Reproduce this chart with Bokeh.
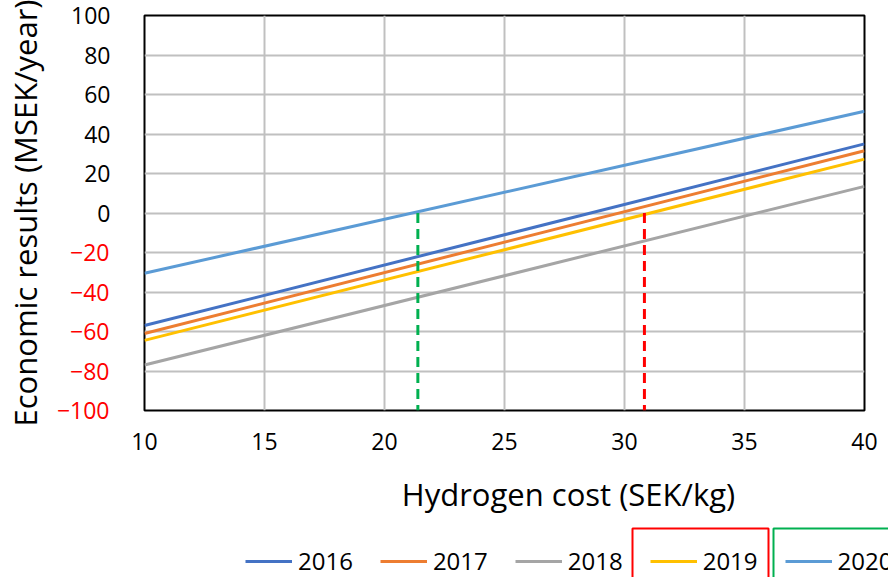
from bokeh.plotting import figure
from bokeh.models import (FixedTicker, Legend, LegendItem, BoxAnnotation, Range1d,
                          LinearAxis, Label)
from bokeh.embed import file_html
from bokeh.resources import INLINE

# ---- data ----
hydrogen_cost = [10, 40]
res_2016 = [-57.0, 35.0]
res_2017 = [-61.0, 31.5]
res_2018 = [-77.0, 13.5]
res_2019 = [-64.5, 27.3]
res_2020 = [-30.5, 51.5]
years = ["2016", "2017", "2018", "2019", "2020"]
breakeven_2019 = 30.83
breakeven_2020 = 21.39
x_ticks = [10, 15, 20, 25, 30, 35, 40]
y_ticks_pos = [0, 20, 40, 60, 80, 100]
y_ticks_neg = [-100, -80, -60, -40, -20]
x_title = "Hydrogen cost (SEK/kg)"
y_title = "Economic results (MSEK/year)"

colors = ["#4472C4", "#ED7D31", "#A5A5A5", "#FFC000", "#5B9BD5"]
FONT = "Open Sans"
W = 888
H_MAIN = 470
H_LEG = 577 - H_MAIN

p = figure(width=W, height=H_MAIN, output_backend="svg", toolbar_location=None,
           x_range=Range1d(10, 40), y_range=Range1d(-100, 100),
           min_border_left=144, min_border_right=24, min_border_top=15,
           min_border_bottom=H_MAIN - 410)
p.background_fill_color = "white"
p.border_fill_color = "white"
p.outline_line_color = "black"
p.outline_line_width = 2

# grids
p.xgrid.ticker = FixedTicker(ticks=x_ticks)
p.ygrid.ticker = FixedTicker(ticks=y_ticks_neg + y_ticks_pos)
for g in (p.xgrid, p.ygrid):
    g.grid_line_color = "#c0c0c0"
    g.grid_line_width = 2

# second y axis carrying the red negative tick labels
neg_axis = LinearAxis(ticker=FixedTicker(ticks=y_ticks_neg))
p.add_layout(neg_axis, "left")

p.xaxis.ticker = FixedTicker(ticks=x_ticks)
p.yaxis[0].ticker = FixedTicker(ticks=y_ticks_pos)
for ax in list(p.xaxis) + list(p.yaxis):
    ax.axis_line_color = None
    ax.major_tick_line_color = None
    ax.minor_tick_line_color = None
    ax.major_tick_in = 0
    ax.major_tick_out = 0
    ax.major_label_text_font = FONT
    ax.major_label_text_font_size = "23px"
    ax.major_label_text_color = "black"
    ax.axis_label_text_font = FONT
    ax.axis_label_text_font_size = "31px"
    ax.axis_label_text_line_height = 1.0
    ax.axis_label_text_font_style = "normal"
    ax.axis_label_text_color = "black"
neg_axis.major_label_text_color = "#FF0000"
p.xaxis.major_label_standoff = 22
p.yaxis[0].major_label_standoff = 34
neg_axis.major_label_standoff = -41
neg_axis.axis_label = y_title
neg_axis.axis_label_standoff = 8

# series
series = [res_2016, res_2017, res_2018, res_2019, res_2020]
for vals, c in zip(series, colors):
    p.line(hydrogen_cost, vals, line_color=c, line_width=3)

# break-even dashed lines
p.line([breakeven_2020, breakeven_2020], [0, -100], line_color="#00B050",
       line_width=3, line_dash="10 6")
p.line([breakeven_2019, breakeven_2019], [0, -100], line_color="#FF0000",
       line_width=3, line_dash="10 6")

# ---- bottom strip: x title + legend; frame = whole strip, x in page pixels, y up from bottom ----
lg = figure(width=W, height=H_LEG, output_backend="svg", toolbar_location=None,
            x_range=Range1d(0, W), y_range=Range1d(0, H_LEG),
            x_axis_type=None, y_axis_type=None, title=None,
            min_border=0, min_border_left=0, min_border_right=0,
            min_border_top=0, min_border_bottom=0)
lg.extra_y_ranges = {"hidden": Range1d(1000, 1001)}
lg.outline_line_color = None
lg.xgrid.visible = False
lg.ygrid.visible = False
lg.background_fill_color = "white"
lg.border_fill_color = "white"

lg.add_layout(Label(x=568, y=84, text=x_title, text_align="center",
                    text_baseline="alphabetic", text_font=FONT,
                    text_font_size="31px", text_color="black"))

keys = [lg.line(hydrogen_cost, vals, line_color=c, line_width=3, y_range_name="hidden")
        for vals, c in zip(series, colors)]

legend = Legend(items=[LegendItem(label=y, renderers=[r]) for y, r in zip(years, keys)],
                location=(245, 0), orientation="horizontal",
                glyph_width=47, glyph_height=20, label_standoff=6, spacing=27,
                padding=0, margin=0, border_line_color=None, background_fill_alpha=0,
                label_text_font=FONT, label_text_font_size="24px",
                label_text_color="black")
lg.add_layout(legend, "center")

lg.add_layout(BoxAnnotation(left=632, right=768, top=577 - 528, bottom=-10,
                            fill_alpha=0, line_color="#FF0000", line_alpha=1,
                            line_width=2))
lg.add_layout(BoxAnnotation(left=773, right=920, top=577 - 528, bottom=-10,
                            fill_alpha=0, line_color="#00B050", line_alpha=1,
                            line_width=2))

open("out.html", "w").write(file_html([p, lg], INLINE))
